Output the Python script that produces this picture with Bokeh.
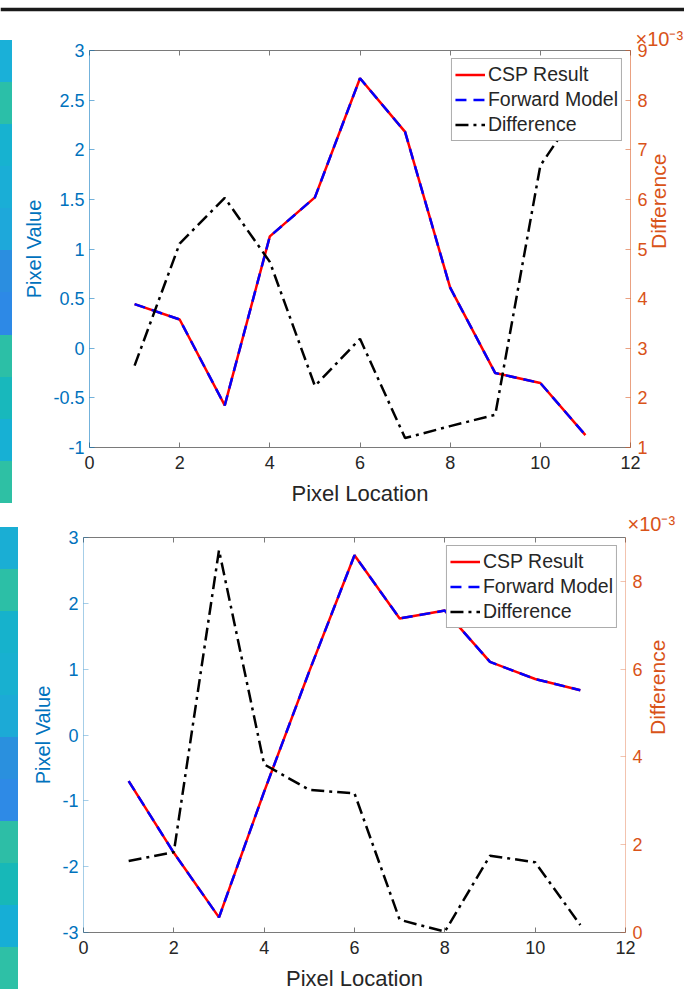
import math
from bokeh.plotting import figure
from bokeh.models import (Range1d, LinearAxis, FixedTicker, CustomJSTickFormatter,
                          Span, Title, Div)
from bokeh.layouts import column, row
from bokeh.embed import file_html
from bokeh.resources import INLINE

# ---------------- data ----------------
pixel_location = [1, 2, 3, 4, 5, 6, 7, 8, 9, 10, 11]

top_csp = [0.445, 0.29, -0.575, 1.127, 1.52, 2.72, 2.18, 0.61, -0.25, -0.35, -0.875]
top_forward = [0.445, 0.29, -0.575, 1.127, 1.52, 2.72, 2.18, 0.61, -0.25, -0.35, -0.875]
top_diff = [0.00265, 0.00511, 0.00603, 0.00474, 0.00224, 0.00319, 0.00119,
            0.00143, 0.00166, 0.00668, 0.00803]

bottom_csp = [-0.70, -1.79, -2.77, -0.86, 0.97, 2.73, 1.77, 1.89, 1.11, 0.85, 0.68]
bottom_forward = [-0.70, -1.79, -2.77, -0.86, 0.97, 2.73, 1.77, 1.89, 1.11, 0.85, 0.68]
bottom_diff = [0.00163, 0.00183, 0.00871, 0.00383, 0.00325, 0.00317, 0.00029,
               0.00002, 0.00175, 0.00160, 0.00017]

x_ticks = [0, 2, 4, 6, 8, 10, 12]
top_left_ticks = [-1, -0.5, 0, 0.5, 1, 1.5, 2, 2.5, 3]
top_right_ticks = [0.001, 0.002, 0.003, 0.004, 0.005, 0.006, 0.007, 0.008, 0.009]
bottom_left_ticks = [-3, -2, -1, 0, 1, 2, 3]
bottom_right_ticks = [0.0, 0.002, 0.004, 0.006, 0.008]

# colour cells of the neighbouring (cropped) image, top to bottom
top_strip_colors = ["#1ab0d8", "#2bbfa8", "#17b2d0", "#1aaed6", "#1ea8da", "#2b8ee0",
                    "#2d89e6", "#2cbfa6", "#18b8bc", "#17b0d4", "#2ec0a4"]
bottom_strip_colors = ["#1aaed4", "#2cbfa6", "#16b2cc", "#18b0d0", "#1caad6", "#2a90de",
                       "#2e8ae6", "#2dbea6", "#17b8b8", "#16aed6", "#2ec0a6"]

# ---------------- style ----------------
FONT = "Liberation Sans"
BLUE = "#0072BD"
ORANGE = "#D95319"
DARK = "#262626"


def make_strip(colors, width, height, top, strip_height):
    cell = strip_height / len(colors)
    cells = "".join(
        f'<div style="height:{cell:.2f}px;width:{width}px;background:{c};"></div>'
        for c in colors)
    html = (f'<div style="width:{width}px;height:{height}px;overflow:hidden;margin:0;padding:0;">'
            f'<div style="height:{top}px;"></div>{cells}</div>')
    return Div(text=html, width=width, height=height, margin=(0, 0, 0, 0))


def make_panel(csp, fwd, diff, left_range, right_range, left_ticks, right_ticks,
               width, height, borders, exp_offset, exp_standoff, left_alpha, right_standoff):
    p = figure(width=width, height=height, x_range=Range1d(0, 12),
               y_range=Range1d(*left_range), toolbar_location=None,
               output_backend="svg",
               min_border_left=borders[0], min_border_right=borders[1],
               min_border_top=borders[2], min_border_bottom=borders[3])
    p.extra_y_ranges = {"diff": Range1d(*right_range)}
    p.xgrid.visible = False
    p.ygrid.visible = False
    p.outline_line_color = None
    p.background_fill_color = "white"

    xa = p.xaxis[0]
    xa.ticker = FixedTicker(ticks=x_ticks)
    xa.axis_label = "Pixel Location"
    xa.axis_label_text_font = FONT
    xa.axis_label_text_font_style = "normal"
    xa.axis_label_text_font_size = "22px"
    xa.axis_label_text_color = DARK
    xa.axis_label_standoff = 9
    xa.major_label_text_font = FONT
    xa.major_label_text_font_size = "18px"
    xa.major_label_text_color = DARK
    xa.major_label_standoff = 8
    xa.axis_line_color = "#7a7a7a"
    xa.major_tick_line_color = "#7a7a7a"
    xa.major_tick_in = 5
    xa.major_tick_out = 0
    xa.minor_tick_line_color = None

    ta = LinearAxis(ticker=FixedTicker(ticks=x_ticks), major_label_text_font_size="0px",
                    axis_line_color="#7a7a7a", major_tick_line_color="#7a7a7a",
                    major_tick_in=5, major_tick_out=0, minor_tick_line_color=None,
                    major_label_standoff=0)
    p.add_layout(ta, "above")

    ya = p.yaxis[0]
    ya.ticker = FixedTicker(ticks=left_ticks)
    ya.formatter = CustomJSTickFormatter(code="return String(tick);")
    ya.axis_label = "Pixel Value"
    ya.axis_label_text_font = FONT
    ya.axis_label_text_font_style = "normal"
    ya.axis_label_text_font_size = "20px"
    ya.axis_label_text_color = BLUE
    ya.axis_label_standoff = 5
    ya.major_label_text_font = FONT
    ya.major_label_text_font_size = "18px"
    ya.major_label_text_color = BLUE
    ya.major_label_standoff = 5
    ya.axis_line_color = BLUE
    ya.axis_line_alpha = left_alpha
    ya.major_tick_line_color = BLUE
    ya.major_tick_line_alpha = left_alpha
    ya.major_tick_in = 5
    ya.major_tick_out = 0
    ya.minor_tick_line_color = None

    ra = LinearAxis(y_range_name="diff", ticker=FixedTicker(ticks=right_ticks),
                    formatter=CustomJSTickFormatter(code="return String(Math.round(tick*1000));"),
                    axis_label="Difference", axis_label_text_font=FONT,
                    axis_label_text_font_style="normal", axis_label_text_font_size="21px",
                    axis_label_text_color=ORANGE, axis_label_standoff=right_standoff,
                    axis_label_orientation=math.pi / 2,
                    major_label_text_font=FONT, major_label_text_font_size="18px",
                    major_label_text_color=ORANGE, major_label_standoff=7,
                    axis_line_color=ORANGE, axis_line_alpha=left_alpha,
                    major_tick_line_color=ORANGE, major_tick_line_alpha=left_alpha,
                    major_tick_in=5, major_tick_out=0, minor_tick_line_color=None)
    p.add_layout(ra, "right")

    p.line(pixel_location, csp, line_color="#FF0000", line_width=2.5,
           legend_label="CSP Result")
    p.line(pixel_location, fwd, line_color="#0000FF", line_width=2.5,
           line_dash="11 7", legend_label="Forward Model")
    p.line(pixel_location, diff, y_range_name="diff", line_color="black",
           line_width=2.5, line_dash="13 5 3 5", legend_label="Difference")

    lg = p.legend[0]
    lg.location = "top_right"
    lg.margin = 8
    lg.padding = 3
    lg.spacing = 0
    lg.glyph_width = 30
    lg.glyph_height = 25
    lg.label_height = 25
    lg.label_standoff = 3
    lg.label_text_font = FONT
    lg.label_text_font_size = "19.5px"
    lg.label_text_color = DARK
    lg.border_line_color = "#5a5a5a"
    lg.border_line_width = 1.2
    lg.background_fill_color = "white"
    lg.background_fill_alpha = 1.0

    exp_title = Title(text="×10⁻³", align="left", offset=exp_offset, standoff=exp_standoff,
                      text_font=FONT, text_font_size="20px", text_color=ORANGE,
                      text_font_style="normal")
    p.add_layout(exp_title, "above")
    return p


line_fig = figure(width=684, height=20, x_range=Range1d(0, 1), y_range=Range1d(20, 0),
                  x_axis_type=None, y_axis_type=None, toolbar_location=None,
                  output_backend="svg", min_border=0)
line_fig.outline_line_color = None
line_fig.xgrid.visible = False
line_fig.ygrid.visible = False
line_fig.add_layout(Span(location=9, dimension="width", line_color="#1a1a1a", line_width=3.5))

s1 = make_strip(top_strip_colors, 12, 488, 20, 463)
p1 = make_panel(top_csp, top_forward, top_diff, (-1, 3), (0.001, 0.009),
                top_left_ticks, top_right_ticks, 672, 488, (77, 52, 30, 60), 546, 2, 0.55, 8)

s2 = make_strip(bottom_strip_colors, 18, 485, 19, 462)
p2 = make_panel(bottom_csp, bottom_forward, bottom_diff, (-3, 3), (0.0, 0.009),
                bottom_left_ticks, bottom_right_ticks, 666, 485, (65, 59, 29, 61), 544, 5, 0.35, 12)

layout = column(line_fig, row(s1, p1), row(s2, p2))

open("out.html", "w").write(file_html(layout, INLINE))
